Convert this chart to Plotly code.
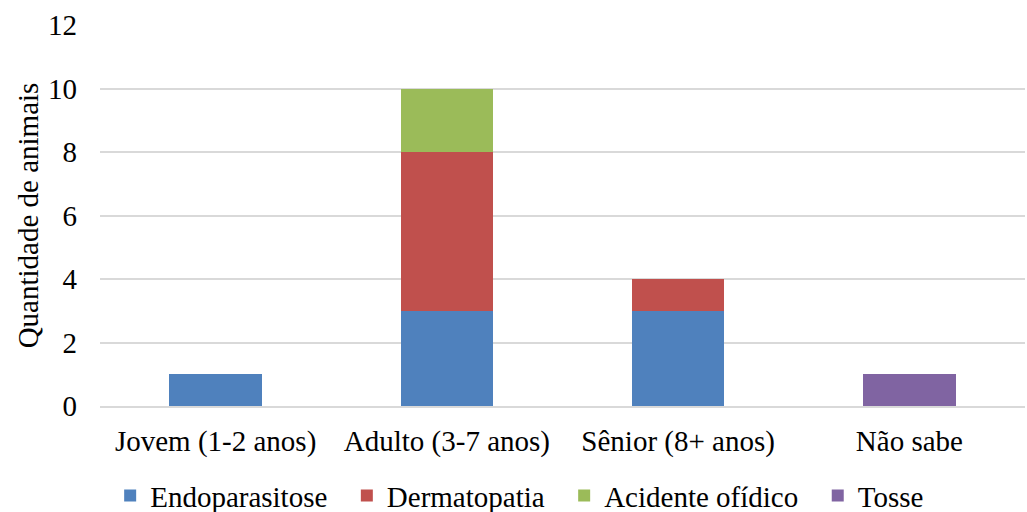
import plotly.graph_objects as go

categorias = ["Jovem (1-2 anos)", "Adulto (3-7 anos)", "Sênior (8+ anos)", "Não sabe"]
endoparasitose = [1, 3, 3, 0]
dermatopatia = [0, 5, 1, 0]
acidente_ofidico = [0, 2, 0, 0]
tosse = [0, 0, 0, 1]

series = [
    ("Endoparasitose", endoparasitose, "#4F81BD"),
    ("Dermatopatia", dermatopatia, "#C0504D"),
    ("Acidente ofídico", acidente_ofidico, "#9BBB59"),
    ("Tosse", tosse, "#8064A2"),
]

# non-breaking spaces widen the gap between legend entries
pad = "\u00a0\u00a0"

fig = go.Figure()
for i, (nome, valores, cor) in enumerate(series):
    fig.add_trace(go.Bar(
        name=nome + (pad if i < len(series) - 1 else ""), x=categorias, y=valores,
        marker=dict(color=cor, line=dict(width=0)),
        width=0.4,
    ))

serif = "Liberation Serif"
fs = 29

fig.update_layout(
    barmode="stack",
    width=1027, height=512,
    margin=dict(l=100, r=2, t=25, b=106, autoexpand=False),
    paper_bgcolor="white", plot_bgcolor="white",
    font=dict(family=serif, size=fs, color="#000000"),
    showlegend=True,
    legend=dict(
        orientation="h", xref="container", x=0.506, xanchor="center",
        yref="container", y=0.032, yanchor="middle",
        font=dict(family=serif, size=fs), traceorder="normal",
    ),
    xaxis=dict(
        showgrid=False, showline=True, linecolor="#D9D9D9", linewidth=1.5,
        ticks="", ticklabelstandoff=8, tickfont=dict(family=serif, size=fs),
    ),
    yaxis=dict(
        range=[0, 12], dtick=2, showgrid=True, gridcolor="#D9D9D9", gridwidth=1.5,
        zeroline=False, showline=False, ticks="", ticklabelstandoff=22,
        tickfont=dict(family=serif, size=fs),
        title=dict(text="Quantidade de animais", font=dict(family=serif, size=fs), standoff=0),
    ),
)

fig.write_html("out.html")
